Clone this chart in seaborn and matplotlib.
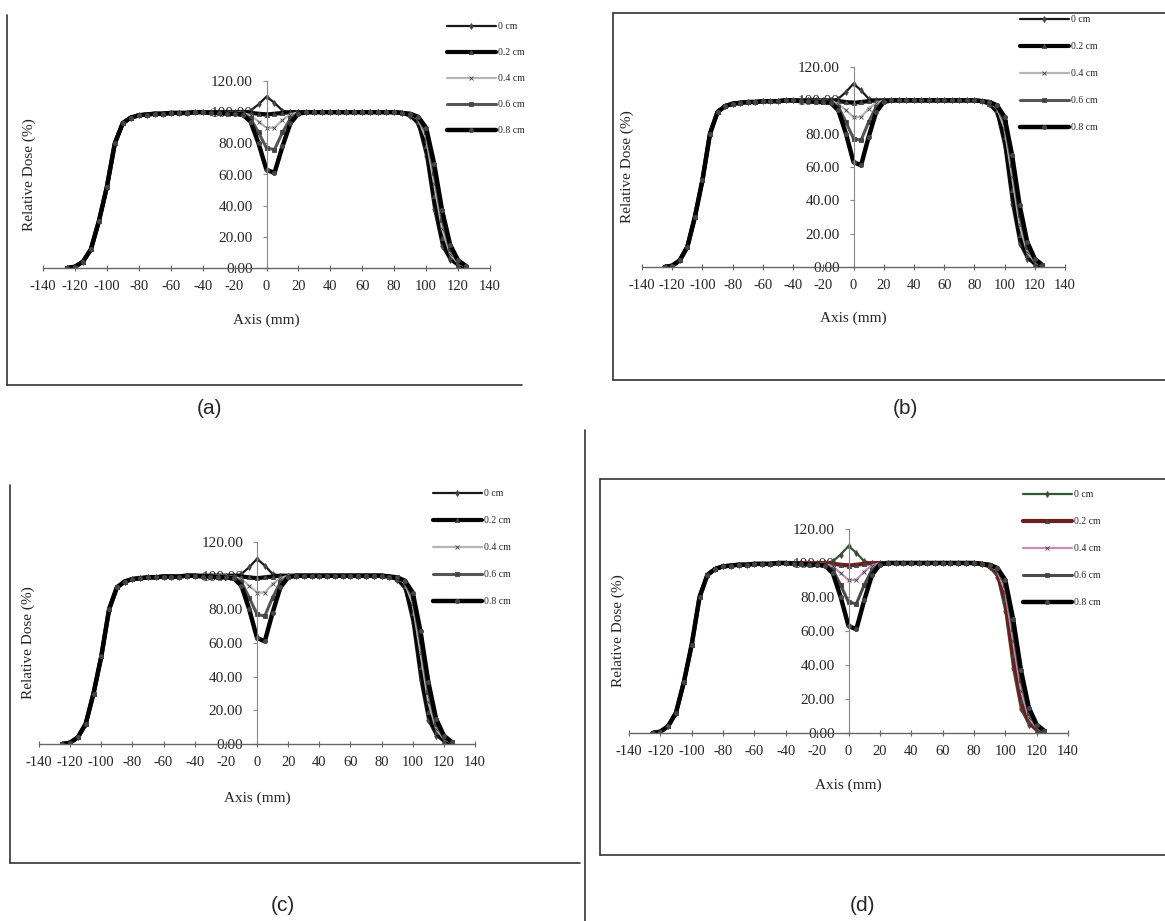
import matplotlib
matplotlib.use("Agg")
import matplotlib.pyplot as plt
import seaborn as sns
import pandas as pd
from matplotlib.lines import Line2D

# --------------------------------------------------------
# Data: relative dose profiles (%) along the axis (mm)
# --------------------------------------------------------

axis_mm = [
    -125, -120, -115, -110, -105, -100, -95, -90, -85, -80,
    -75, -70, -65, -60, -55, -50, -45, -40, -35, -30,
    -25, -20, -15, -10, -5, 0, 5, 10, 15, 20,
    25, 30, 35, 40, 45, 50, 55, 60, 65, 70,
    75, 80, 85, 90, 95, 100, 105, 110, 115, 120, 125,
]

dose_0cm = [
    0.0, 0.8, 4, 12, 30, 52, 80, 93, 96.5, 98,
    98.5, 99, 99, 99.5, 99.5, 99.5, 100, 100, 100, 100,
    100, 100, 100, 101, 105, 110, 106, 101, 100, 100,
    100, 100, 100, 100, 100, 100, 100, 100, 100, 100,
    100, 100, 99.5, 97.5, 92, 72, 38, 14, 5, 1.5, 0.3,
]

dose_02cm = [
    0.0, 0.8, 4, 12, 30, 52, 80, 93, 96.5, 98,
    98.5, 99, 99, 99.5, 99.5, 99.5, 100, 100, 100, 100,
    100, 100, 100, 99.5, 99, 98.5, 99, 99.5, 100, 100,
    100, 100, 100, 100, 100, 100, 100, 100, 100, 100,
    100, 100, 99.5, 98, 94, 78, 46, 19, 7, 2, 0.5,
]

dose_04cm = [
    0.0, 0.8, 4, 12, 30, 52, 80, 93, 96.5, 98,
    98.5, 99, 99, 99.5, 99.5, 99.5, 100, 100, 100, 100,
    100, 100, 99.5, 98, 94, 90, 90, 95, 98.5, 100,
    100, 100, 100, 100, 100, 100, 100, 100, 100, 100,
    100, 100, 99.5, 98.5, 95.5, 83, 54, 25, 9, 3, 0.7,
]

dose_06cm = [
    0.0, 0.8, 4, 12, 30, 52, 80, 93, 96.5, 98,
    98.5, 99, 99, 99.5, 99.5, 99.5, 100, 100, 100, 99.5,
    99.5, 99.5, 99, 96, 87, 77, 76, 87, 96, 99.5,
    100, 100, 100, 100, 100, 100, 100, 100, 100, 100,
    100, 100, 99.5, 99, 96.5, 87, 61, 31, 12, 4, 0.9,
]

dose_08cm = [
    0.0, 0.8, 4, 12, 30, 52, 80, 93, 96.5, 98,
    98.5, 99, 99, 99.5, 99.5, 99.5, 100, 100, 99.5, 99.5,
    99, 99, 98.5, 94, 80, 63, 61, 78, 93, 99,
    100, 100, 100, 100, 100, 100, 100, 100, 100, 100,
    100, 100, 99.5, 99, 97, 90, 67, 37, 15, 5, 1.2,
]

series_labels = ["0 cm", "0.2 cm", "0.4 cm", "0.6 cm", "0.8 cm"]
series_values = [dose_0cm, dose_02cm, dose_04cm, dose_06cm, dose_08cm]

x_ticks = list(range(-140, 141, 20))
y_ticks = [0, 20, 40, 60, 80, 100, 120]
y_tick_labels = ["0.00", "20.00", "40.00", "60.00", "80.00", "100.00", "120.00"]

panel_names = ["(a)", "(b)", "(c)", "(d)"]

# --------------------------------------------------------
# Global Visualization Settings
# --------------------------------------------------------

sns.set_theme(style="white")
plt.rcParams["font.family"] = ["Liberation Serif", "DejaVu Serif"]

W, H = 1165, 921
DPI = 100

gray_colors = ["#1a1a1a", "#050505", "#b5b5b5", "#555555", "#000000"]
color_colors = ["#2f5a2f", "#6e1d1d", "#c490b0", "#4a4a4a", "#000000"]
line_widths = [1.6, 3.0, 1.6, 2.2, 3.2]
markers = ["d", "^", "x", "s", "o"]

# axes boxes in pixels: left, right, top, bottom
panels = [
    dict(box=(43, 490, 81, 268), legend=(447, 22), spacing=1.75,
         ylab=-0.016, xlab=-0.246, colors=gray_colors, label_xy=(210, 408),
         frame=[((7, 15), (7, 385)), ((7, 385), (522, 385))]),
    dict(box=(642, 1065, 67, 267), legend=(1020, 15), spacing=1.85,
         ylab=-0.02, xlab=-0.225, colors=gray_colors, label_xy=(905, 408),
         frame=[((613, 13), (613, 380)), ((613, 13), (1165, 13)),
                ((613, 380), (1165, 380))]),
    dict(box=(39, 475, 542, 744), legend=(433, 489), spacing=1.85,
         ylab=-0.01, xlab=-0.233, colors=gray_colors, label_xy=(283, 905),
         frame=[((10, 485), (10, 863)), ((10, 863), (580, 863))]),
    dict(box=(629, 1068, 529, 733), legend=(1023, 490), spacing=1.85,
         ylab=-0.008, xlab=-0.225, colors=color_colors, label_xy=(862, 905),
         frame=[((600, 479), (600, 855)), ((600, 479), (1165, 479)),
                ((600, 855), (1165, 855)), ((585, 430), (585, 921))]),
]

df = pd.DataFrame({"axis": axis_mm})
for name, values in zip(series_labels, series_values):
    df[name] = values

fig = plt.figure(figsize=(W / DPI, H / DPI), dpi=DPI)
fig.patch.set_facecolor("white")

for p, name in zip(panels, panel_names):
    left, right, top, bottom = p["box"]
    ax = fig.add_axes([left / W, 1 - bottom / H, (right - left) / W, (bottom - top) / H])
    ax.set_facecolor("none")

    for i, label in enumerate(series_labels):
        sns.lineplot(
            data=df, x="axis", y=label, ax=ax,
            color=p["colors"][i], lw=line_widths[i],
            marker=markers[i], markersize=3, markeredgewidth=0.6,
            markerfacecolor="#444444", markeredgecolor="#444444",
            label=label, legend=False,
        )

    ax.set_xlim(-140, 140)
    ax.set_ylim(0, 120)
    ax.set_xticks(x_ticks)
    ax.set_xticklabels([str(t) for t in x_ticks], fontsize=10.5)
    ax.set_yticks(y_ticks)
    ax.set_yticklabels(y_tick_labels, fontsize=10.5)

    ax.spines["top"].set_visible(False)
    ax.spines["right"].set_visible(False)
    ax.spines["left"].set_position(("data", 0))
    ax.spines["left"].set_color("#888888")
    ax.spines["bottom"].set_color("#666666")
    ax.spines["left"].set_linewidth(0.8)
    ax.spines["bottom"].set_linewidth(1.0)
    ax.tick_params(axis="x", direction="inout", length=5, width=0.8,
                   color="#666666", pad=6, bottom=True)
    ax.tick_params(axis="y", direction="out", length=3, width=0.8,
                   color="#888888", pad=7, left=True)

    ax.set_xlabel("Axis (mm)", fontsize=11)
    ax.set_ylabel("Relative Dose (%)", fontsize=11)
    ax.xaxis.set_label_coords(0.5, p["xlab"])
    ax.yaxis.set_label_coords(p["ylab"], 0.5)

    lx, ly = p["legend"]
    ax.legend(
        loc="upper left",
        bbox_to_anchor=(lx / W, 1 - ly / H),
        bbox_transform=fig.transFigure,
        frameon=False, fontsize=7, handlelength=5.0, handletextpad=0.2,
        labelspacing=p["spacing"], borderpad=0, borderaxespad=0,
    )

    for (x0, y0), (x1, y1) in p["frame"]:
        fig.add_artist(Line2D([x0 / W, x1 / W], [1 - y0 / H, 1 - y1 / H],
                              transform=fig.transFigure, color="#333333", lw=1.2))

    fx, fy = p["label_xy"]
    fig.text(fx / W, 1 - fy / H, name, ha="center", va="center",
             fontsize=15, family=["Liberation Sans", "DejaVu Sans"])

plt.savefig("out.png", dpi=DPI, facecolor="white")
plt.close()
